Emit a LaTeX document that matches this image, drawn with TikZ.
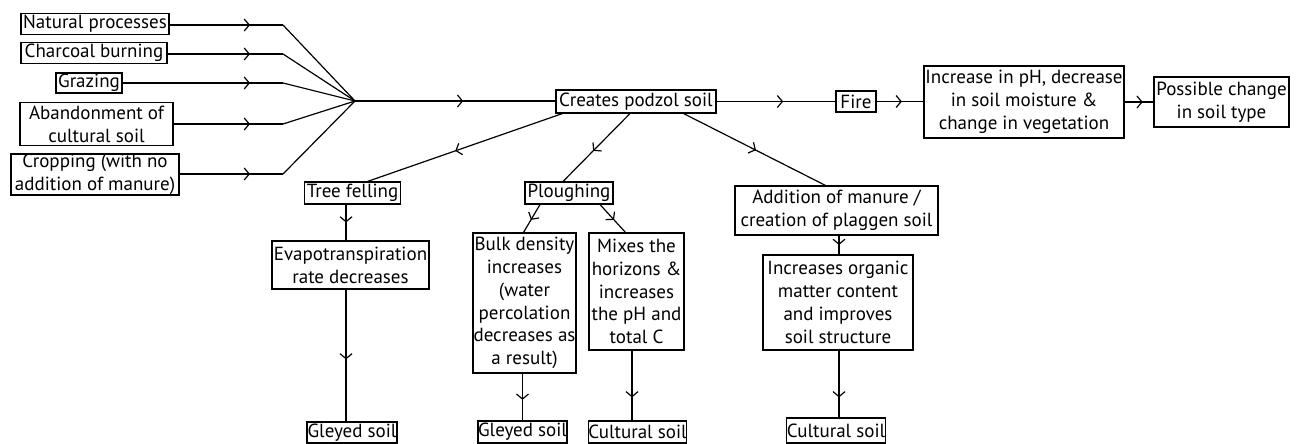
\documentclass[tikz,border=0pt]{standalone}
\usepackage{fontspec}
\setmainfont{PT Sans}
\usetikzlibrary{arrows.meta,decorations.markings}
\begin{document}
\begin{tikzpicture}[x=1pt,y=-1pt,
  box/.style={draw=black, line width=1.1pt, align=center, inner sep=0pt,
    font=\fontsize{19}{22.8}\selectfont},
  sz/.style 2 args={minimum width=#1pt, minimum height=#2pt},
  conn/.style={line width=1.2pt, draw=black},
  marr/.style={conn, postaction={decorate}, decoration={markings,
    mark=at position #1 with {\arrow{Straight Barb[length=5pt,width=12pt,line width=1.2pt]}}}}
]
\useasboundingbox (0,0) rectangle (1300,444);

% left inputs
\node[box, sz={148}{21}] (nat) at (95,24) {Natural processes};
\node[box, sz={146}{21}] (char) at (94,53) {Charcoal burning};
\node[box, sz={66}{20}] (graz) at (89,83) {Grazing};
\node[box, sz={153}{43}] (aban) at (96.5,124) {Abandonment of\\cultural soil};
\node[box, sz={168}{41}] (crop) at (95,174.5) {Cropping (with no\\addition of manure)};

\coordinate (hub) at (355,101);
\coordinate (b1) at (283,25);
\coordinate (b2) at (283,54);
\coordinate (b3) at (283,83);
\coordinate (b4) at (283,124);
\coordinate (b5) at (283,174);

\foreach \n/\b in {nat/b1,char/b2,graz/b3,aban/b4,crop/b5}{
  \draw[marr=-33pt] (\n.east |- \b) -- (\b);
  \draw[conn] (\b) -- (hub);
}

% main row
\node[box, sz={160}{23}] (podzol) at (636,101.5) {Creates podzol soil};
\node[box, sz={40}{21}] (fire) at (856,101.5) {Fire};
\node[box, sz={200}{72}] (incr) at (1024,102) {Increase in pH, decrease\\in soil moisture \&\\change in vegetation};
\node[box, sz={135}{50}] (poss) at (1221.5,102) {Possible change\\in soil type};

\draw[marr=0.54] (hub) -- (podzol.west |- hub);
\draw[marr=0.56] (podzol.east) -- (fire.west);
\draw[marr=0.54] (fire.east) -- (fire.east -| incr.west);
\draw[marr=0.63] (incr.east |- poss.west) -- (poss.west);

% second row
\node[box, sz={96}{22}] (tree) at (352.5,193) {Tree felling};
\node[box, sz={88}{22}] (plough) at (569,193) {Ploughing};
\node[box, sz={203}{49}] (addit) at (836.5,210.5) {Addition of manure /\\creation of plaggen soil};

\draw[marr=0.55] ([xshift=7pt]podzol.south west) -- ([xshift=15pt]tree.north);
\draw[marr=0.55] ([xshift=-6pt]podzol.south) -- ([xshift=-6pt]plough.north);
\draw[marr=0.51] ([xshift=-33pt]podzol.south east) -- ([xshift=-11pt]addit.north);

% third row
\node[box, sz={157}{48}] (evapo) at (350.5,265) {Evapotranspiration\\rate decreases};
\node[box, sz={103}{140}] (bulk) at (524.5,303) {Bulk density\\increases\\(water\\percolation\\decreases as\\a result)};
\node[box, sz={95}{117}] (mixes) at (636.5,291.5) {Mixes the\\horizons \&\\increases\\the pH and\\total C};
\node[box, sz={150}{95}] (incorg) at (838,302.5) {Increases organic\\matter content\\and improves\\soil structure};

\coordinate (tl) at (346,0);
\coordinate (ml) at (632,0);
\coordinate (al) at (839,0);

\draw[marr=0.5] (tree.south -| tl) -- (evapo.north -| tl);
\draw[marr=0.55] ([xshift=-29pt]plough.south) -- ([xshift=-1pt]bulk.north);
\draw[marr=0.55] ([xshift=31pt]plough.south) -- ([xshift=-11pt]mixes.north);
\draw[marr=0.5] (addit.south -| al) -- (incorg.north -| al);

% bottom row
\node[box, sz={90}{21}] (gley1) at (352,432.5) {Gleyed soil};
\node[box, sz={89}{22}] (gley2) at (522.5,432) {Gleyed soil};
\node[box, sz={98}{22}] (cult1) at (637.5,432) {Cultural soil};
\node[box, sz={98}{25}] (cult2) at (836,430.5) {Cultural soil};

\draw[marr=0.53] (evapo.south -| tl) -- (gley1.north -| tl);
\draw[marr=0.56] (bulk.south -| gley2) -- (gley2.north);
\draw[marr=0.67] (mixes.south -| ml) -- (cult1.north -| ml);
\draw[marr=0.7] (incorg.south -| al) -- (cult2.north -| al);
\end{tikzpicture}
\end{document}
